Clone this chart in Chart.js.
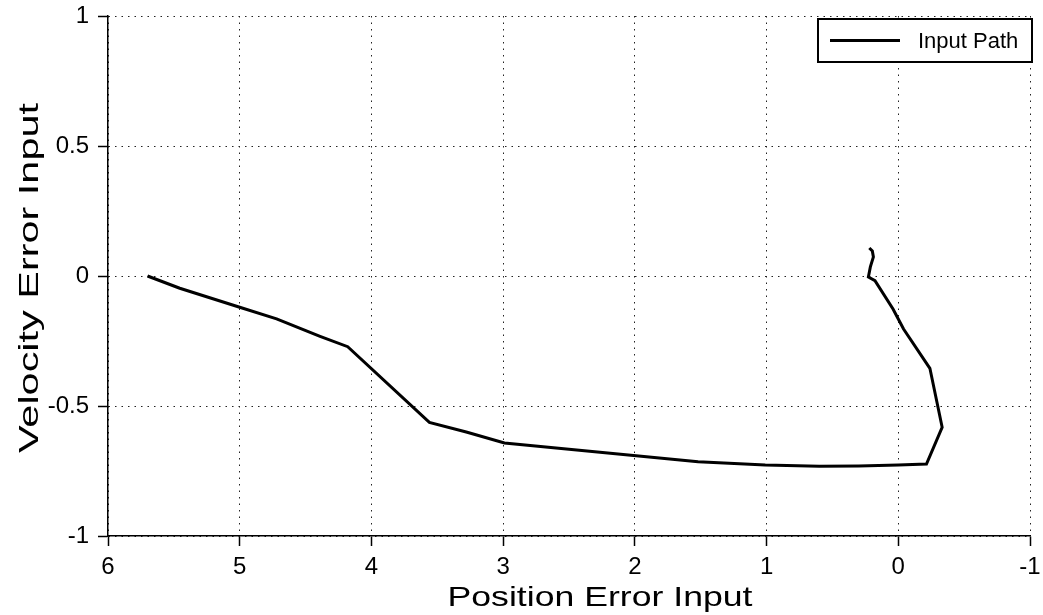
<!DOCTYPE html>
<html>
<head>
<meta charset="utf-8">
<title>Input Path</title>
<script src="https://cdn.jsdelivr.net/npm/chart.js@4.4.1/dist/chart.umd.min.js"></script>
<style>
    html, body { margin: 0; padding: 0; background: #fff; }
    #wrap { width: 1043px; height: 615px; }
</style>
</head>
<body>
<div id="wrap"><canvas id="path-chart"></canvas></div>
<script>
// Trajectory (position error, velocity error)
const positionError = [5.70, 5.455, 5.00, 4.72, 4.39, 4.18, 3.56, 3.28, 2.99, 2.01, 1.52, 1.01,
    0.60, 0.30, 0.00, -0.214, -0.333, -0.24, -0.04, 0.04, 0.177, 0.227, 0.212, 0.189, 0.197, 0.220];
const velocityError = [0.0, -0.047, -0.12, -0.165, -0.232, -0.272, -0.563, -0.60, -0.642, -0.69, -0.714, -0.727,
    -0.732, -0.731, -0.727, -0.723, -0.582, -0.355, -0.204, -0.127, -0.018, -0.004, 0.035, 0.073, 0.096, 0.108];

const xTicks = [6, 5, 4, 3, 2, 1, 0, -1];
const yTicks = [-1, -0.5, 0, 0.5, 1];

const xTitle = 'Position Error Input';
const yTitle = 'Velocity Error Input';

const FONT = "'Liberation Sans', Arial, Helvetica, sans-serif";

const points = positionError.map((x, i) => ({ x: x, y: velocityError[i] }));

// Legend box drawn inside the plot, top right corner
const insideLegend = {
    id: 'insideLegend',
    afterDraw(chart) {
        const { ctx, chartArea } = chart;
        const ds = chart.data.datasets[0];
        const w = 214, h = 43;
        const left = chartArea.right + 2 - w;
        const top = chartArea.top + 3;
        ctx.save();
        ctx.fillStyle = '#fff';
        ctx.fillRect(left, top, w, h);
        ctx.strokeStyle = '#000';
        ctx.lineWidth = 2;
        ctx.strokeRect(left, top, w, h);
        ctx.beginPath();
        ctx.lineWidth = ds.borderWidth;
        ctx.moveTo(left + 12, top + h / 2);
        ctx.lineTo(left + 82, top + h / 2);
        ctx.stroke();
        ctx.fillStyle = '#000';
        ctx.font = '22px ' + FONT;
        ctx.textBaseline = 'middle';
        ctx.fillText(ds.label, left + 100, top + h / 2 + 1);
        ctx.restore();
    }
};

// Axis titles: the scan has them stretched along their length, so draw them by hand
function stretchedText(ctx, text, cx, cy, length, angle) {
    ctx.save();
    ctx.translate(cx, cy);
    ctx.rotate(angle);
    const natural = ctx.measureText(text).width;
    ctx.scale(length / natural, 1);
    ctx.fillText(text, 0, 0);
    ctx.restore();
}

const axisTitles = {
    id: 'axisTitles',
    afterDraw(chart) {
        const { ctx, chartArea } = chart;
        ctx.save();
        ctx.fillStyle = '#000';
        ctx.font = '28px ' + FONT;
        ctx.textAlign = 'center';
        ctx.textBaseline = 'middle';
        stretchedText(ctx, xTitle, (chartArea.left + chartArea.right) / 2 + 31, 598, 305, 0);
        stretchedText(ctx, yTitle, 30, (chartArea.top + chartArea.bottom) / 2 + 2, 350, -Math.PI / 2);
        ctx.restore();
    }
};

// keep the plot box exactly where the layout padding puts it
function noEdgePadding(scale) {
    scale.paddingTop = 0;
    scale.paddingBottom = 0;
    scale.paddingLeft = 0;
    scale.paddingRight = 0;
}

new Chart(document.getElementById('path-chart'), {
    type: 'scatter',
    data: {
        datasets: [{
            label: 'Input Path',
            data: points,
            showLine: true,
            borderColor: '#000',
            borderWidth: 3,
            pointRadius: 0,
            tension: 0
        }]
    },
    options: {
        responsive: true,
        maintainAspectRatio: false,
        animation: false,
        layout: { padding: { left: 0, right: 13, top: 16, bottom: 0 } },
        plugins: {
            legend: { display: false },
            tooltip: { enabled: false }
        },
        scales: {
            x: {
                type: 'linear',
                reverse: true,
                min: -1,
                max: 6,
                afterBuildTicks: (scale) => { scale.ticks = xTicks.map(v => ({ value: v })); },
                afterFit: (scale) => { scale.height = 79; noEdgePadding(scale); },
                ticks: { color: '#000', font: { family: FONT, size: 24 }, padding: 7, maxRotation: 0,
                    callback: (v) => String(v) },
                grid: { color: '#222', lineWidth: 1, tickLength: 10, tickColor: '#000', tickWidth: 1.5 },
                border: { display: true, color: '#000', width: 1.5, dash: [1.5, 5] }
            },
            y: {
                min: -1,
                max: 1,
                afterBuildTicks: (scale) => { scale.ticks = yTicks.map(v => ({ value: v })); },
                afterFit: (scale) => { scale.width = 108; noEdgePadding(scale); },
                ticks: { color: '#000', font: { family: FONT, size: 24 }, padding: 9,
                    callback: (v) => String(v) },
                grid: { color: '#222', lineWidth: 1, tickLength: 10, tickColor: '#000', tickWidth: 1.5 },
                border: { display: true, color: '#000', width: 1.5, dash: [1.5, 5] }
            }
        }
    },
    plugins: [insideLegend, axisTitles]
});
</script>
</body>
</html>
